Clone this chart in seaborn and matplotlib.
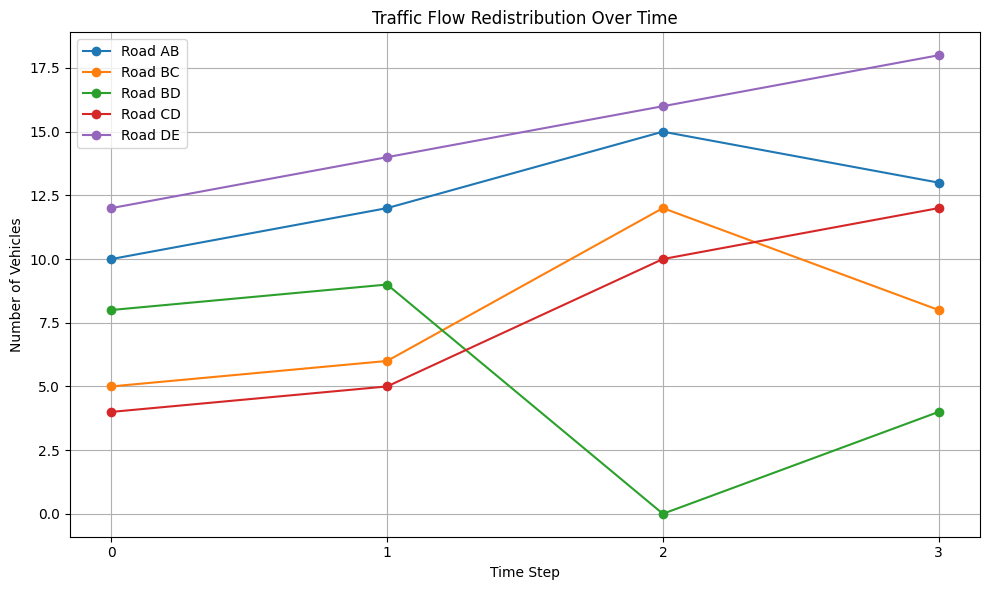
import pandas as pd
import seaborn as sns
import matplotlib.pyplot as plt

# Traffic counts per road at each time step
time_steps = [0, 1, 2, 3]
road_ab = [10, 12, 15, 13]
road_bc = [5, 6, 12, 8]
road_bd = [8, 9, 0, 4]
road_cd = [4, 5, 10, 12]
road_de = [12, 14, 16, 18]

roads = {
    'Road AB': road_ab,
    'Road BC': road_bc,
    'Road BD': road_bd,
    'Road CD': road_cd,
    'Road DE': road_de,
}

fig, ax = plt.subplots(figsize=(10, 6), dpi=100)

for name, values in roads.items():
    df = pd.DataFrame({'Time Step': time_steps, 'Vehicles': values})
    sns.lineplot(x='Time Step', y='Vehicles', data=df, ax=ax, marker='o',
                 markersize=7, markeredgewidth=0, label=name)

ax.set_title('Traffic Flow Redistribution Over Time')
ax.set_xlabel('Time Step')
ax.set_ylabel('Number of Vehicles')
ax.set_xticks(time_steps)
ax.grid(True)
ax.legend(loc='upper left')

plt.tight_layout()
plt.savefig('out.png', bbox_inches='tight')
